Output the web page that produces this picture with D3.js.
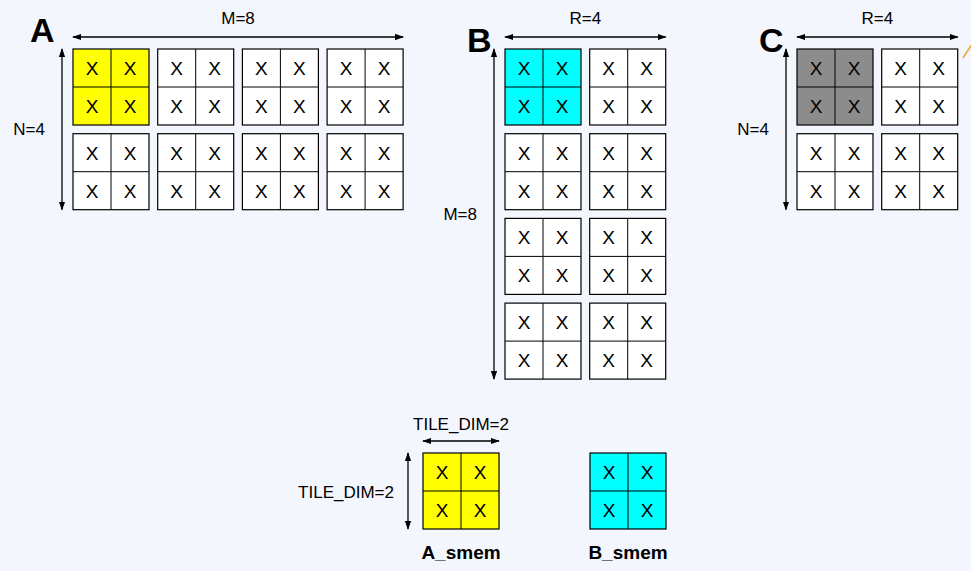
<!DOCTYPE html>
<html lang="en">
<head>
<meta charset="UTF-8" />
<title>Tiled matrices</title>
<style>
  body { margin: 0; background: #f4f6fd; }
  svg { display: block; font-family: "Liberation Sans", Arial, sans-serif; }
</style>
</head>
<body>
<svg width="971" height="571"></svg>
<script src="https://d3js.org/d3.v7.min.js"></script>
<script>
// matrices: name, tile grid (rows x cols), highlight colour of tile (0,0)
const matrixNames = ["A", "B", "C"];
const tileRows = [2, 4, 2];
const tileCols = [4, 2, 2];
const highlight = ["#ffff00", "#00ffff", "#8c8c8c"];
const topLabels = ["M=8", "R=4", "R=4"];
const sideLabels = ["N=4", "M=8", "N=4"];
const smemNames = ["A_smem", "B_smem"];
const smemColors = ["#ffff00", "#00ffff"];
const tileDimLabel = "TILE_DIM=2";
const cellsPerTile = 2;

const svg = d3.select("svg");
const defs = svg.append("defs");
defs.append("marker").attr("id", "ah").attr("viewBox", "0 0 10 10")
  .attr("refX", 9).attr("refY", 5).attr("markerWidth", 7).attr("markerHeight", 7)
  .attr("orient", "auto-start-reverse")
  .append("path").attr("d", "M0,1.5 L10,5 L0,8.5 Z").attr("fill", "#000");

const origins = [[73, 49], [505, 49], [797, 49]];
const tileSize = 76, pitch = 84.7;

function drawTile(g, x, y, fill) {
  const cell = d3.scaleLinear().domain([0, cellsPerTile]).range([0, tileSize]);
  const t = g.append("g").attr("transform", `translate(${x},${y})`);
  t.append("rect").attr("width", tileSize).attr("height", tileSize)
    .attr("fill", fill).attr("stroke", "#000").attr("stroke-width", 1.2);
  t.append("line").attr("x1", cell(1)).attr("x2", cell(1)).attr("y1", 0).attr("y2", tileSize).attr("stroke", "#000");
  t.append("line").attr("y1", cell(1)).attr("y2", cell(1)).attr("x1", 0).attr("x2", tileSize).attr("stroke", "#000");
  for (let r = 0; r < cellsPerTile; r++)
    for (let c = 0; c < cellsPerTile; c++)
      t.append("text").attr("x", cell(c + 0.5)).attr("y", cell(r + 0.5) + 7)
        .attr("text-anchor", "middle").attr("font-size", 19).text("X");
}

function arrow(x1, y1, x2, y2) {
  svg.append("line").attr("x1", x1).attr("y1", y1).attr("x2", x2).attr("y2", y2)
    .attr("stroke", "#000").attr("stroke-width", 1.3)
    .attr("marker-start", "url(#ah)").attr("marker-end", "url(#ah)");
}

matrixNames.forEach((name, i) => {
  const [ox, oy] = origins[i];
  const xs = d3.scaleLinear().domain([0, 1]).range([ox, ox + pitch]);
  const ys = d3.scaleLinear().domain([0, 1]).range([oy, oy + pitch]);
  const g = svg.append("g");
  for (let r = 0; r < tileRows[i]; r++)
    for (let c = 0; c < tileCols[i]; c++)
      drawTile(g, xs(c), ys(r), r === 0 && c === 0 ? highlight[i] : "#fff");
  const right = xs(tileCols[i] - 1) + tileSize, bottom = ys(tileRows[i] - 1) + tileSize;
  arrow(ox, 37, right, 37);
  arrow(ox - 11, oy, ox - 11, bottom);
  svg.append("text").attr("x", (ox + right) / 2).attr("y", 24).attr("text-anchor", "middle")
    .attr("font-size", 17).text(topLabels[i]);
  svg.append("text").attr("x", ox - 28).attr("y", (oy + bottom) / 2 + 6).attr("text-anchor", "end")
    .attr("font-size", 17).text(sideLabels[i]);
  svg.append("text").attr("x", i === 0 ? 30 : ox - 38).attr("y", i === 0 ? 42 : 52)
    .attr("font-size", 34).attr("font-weight", "bold").text(name);
});

// orange line at the right edge
svg.append("line").attr("x1", 963).attr("y1", 58).attr("x2", 972).attr("y2", 44)
  .attr("stroke", "#f0a030").attr("stroke-width", 1.5);

// shared-memory tiles
const smemX = [423, 590], smemY = 453;
smemNames.forEach((n, i) => {
  drawTile(svg, smemX[i], smemY, smemColors[i]);
  svg.append("text").attr("x", smemX[i] + tileSize / 2).attr("y", 559).attr("text-anchor", "middle")
    .attr("font-size", 19).attr("font-weight", "bold").text(n);
});
arrow(423, 441, 499, 441);
arrow(408, 453, 408, 529);
svg.append("text").attr("x", 461).attr("y", 430).attr("text-anchor", "middle").attr("font-size", 17).text(tileDimLabel);
svg.append("text").attr("x", 394).attr("y", 498).attr("text-anchor", "end").attr("font-size", 17).text(tileDimLabel);
</script>
</body>
</html>
